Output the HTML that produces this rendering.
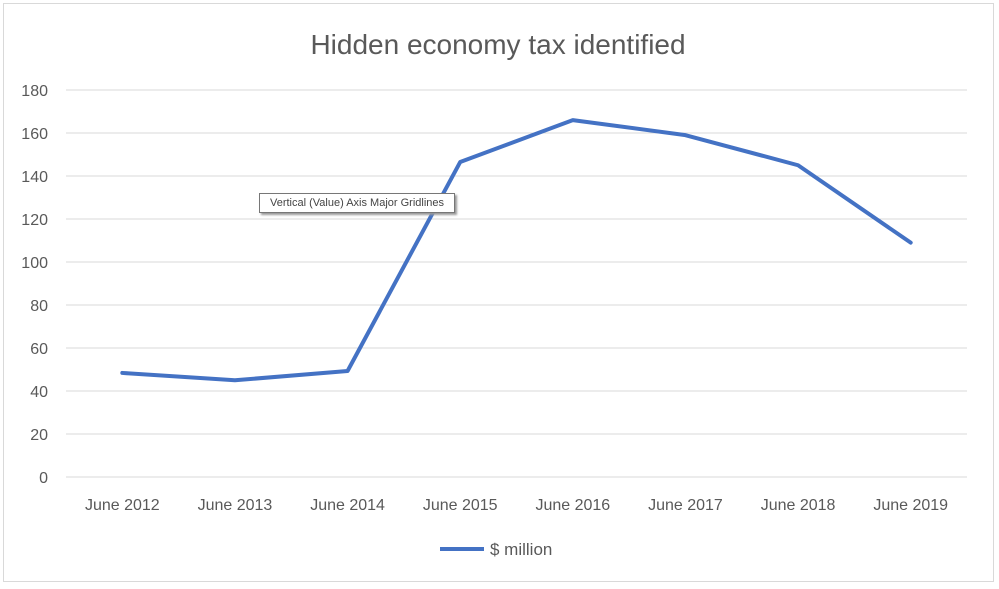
<!DOCTYPE html>
<html><head><meta charset="utf-8"><style>
body{margin:0;width:999px;height:589px;background:#fff;overflow:hidden;font-family:"Liberation Sans",sans-serif}
svg{position:absolute;left:0;top:0}
#tip{position:absolute;left:259px;top:193px;width:194px;height:18px;border:1px solid #777;background:#fff;box-shadow:2px 2px 2px #999;font-size:11px;color:#444;line-height:18px;text-align:center;white-space:nowrap}
</style></head><body>
<svg width="999" height="589">
<rect x="3.5" y="3.5" width="990" height="578" fill="#fff" stroke="#d9d9d9"/>
<text x="498" y="54" text-anchor="middle" font-size="28" fill="#595959">Hidden economy tax identified</text>
<g id="grid"></g><g id="ylab"></g><g id="xlab"></g><g id="series"></g>
<line x1="440" y1="549" x2="484" y2="549" stroke="#4472c4" stroke-width="4"/>
<text x="490" y="555" font-size="17" fill="#595959">$ million</text>
</svg>
<div id="tip">Vertical (Value) Axis Major Gridlines</div>
<script>
const categories=["June 2012","June 2013","June 2014","June 2015","June 2016","June 2017","June 2018","June 2019"];
const values=[48.4,45,49.3,146.5,166,159,145,109];
const yTicks=[0,20,40,60,80,100,120,140,160,180];
const NS="http://www.w3.org/2000/svg";
const L=66,R=967,T=90,B=477,yMax=180;
const y=v=>B-(v/yMax)*(B-T);
const step=(R-L)/categories.length;
const x=i=>L+step*(i+0.5);
function mk(t,a,p){const e=document.createElementNS(NS,t);for(const k in a)e.setAttribute(k,a[k]);p.appendChild(e);return e;}
const g=document.getElementById('grid'),yl=document.getElementById('ylab'),xl=document.getElementById('xlab'),s=document.getElementById('series');
yTicks.forEach(v=>{
const ln=mk('line',{x1:L,x2:R,y1:y(v),y2:y(v),stroke:'#d9d9d9','stroke-width':1},g);


const t=mk('text',{x:48,y:y(v)+6,'text-anchor':'end','font-size':16,fill:'#595959'},yl);
t.textContent=v;


});
categories.forEach((c,i)=>{
const t=mk('text',{x:x(i),y:510,'text-anchor':'middle','font-size':16,fill:'#595959'},xl);
t.textContent=c;


});
const pl=mk('polyline',{points:values.map((v,i)=>x(i)+','+y(v)).join(' '),fill:'none',stroke:'#4472c4','stroke-width':4,'stroke-linejoin':'round','stroke-linecap':'round'},s);


</script>
</body></html>
